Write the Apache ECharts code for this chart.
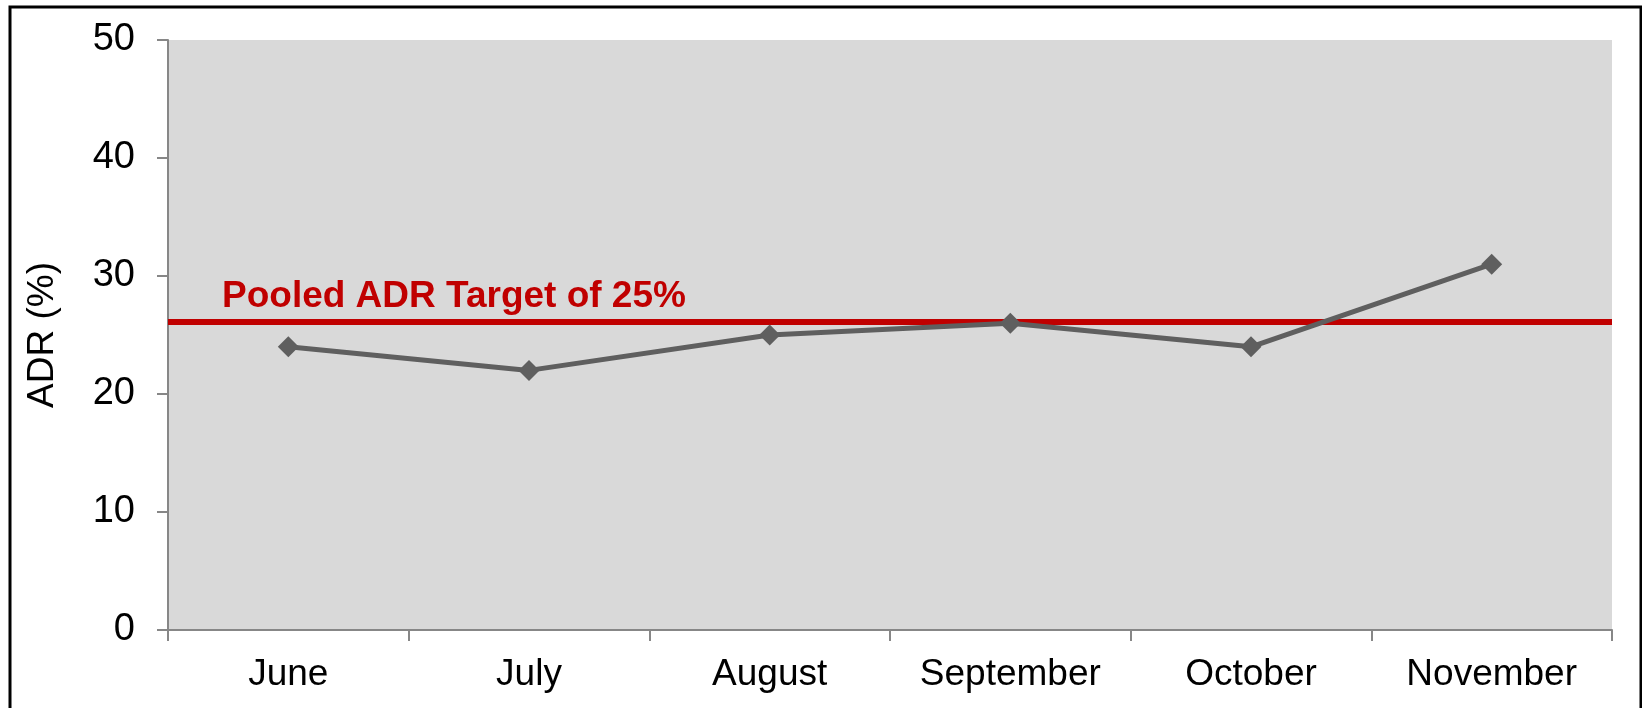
<!DOCTYPE html>
<html>
<head>
<meta charset="utf-8">
<script src="https://cdn.jsdelivr.net/npm/echarts@6/dist/echarts.min.js"></script>
<style>
  html, body { margin: 0; padding: 0; background: #ffffff; }
  #chart { width: 1642px; height: 708px; }
</style>
</head>
<body>
<div id="chart"></div>
<script>
const categories = ['June', 'July', 'August', 'September', 'October', 'November'];
const adrValues = [24, 22, 25, 26, 24, 31];
const targetValue = 26.1;
const targetLabel = 'Pooled ADR Target of 25%';
const yTicks = { min: 0, max: 50, interval: 10 };
const yAxisName = 'ADR (%)';

const FONT = "'Liberation Sans', Arial, sans-serif";
const chart = echarts.init(document.getElementById('chart'), null, { renderer: 'canvas' });

chart.setOption({
  backgroundColor: '#ffffff',
  animation: false,
  textStyle: { fontFamily: FONT },
  graphic: [{
    type: 'rect',
    shape: { x: 10, y: 7, width: 1631, height: 800 },
    style: { fill: 'none', stroke: '#000000', lineWidth: 3 },
    silent: true,
    z: 100
  }],
  grid: {
    left: 168, right: 30, top: 40, bottom: 78,
    show: true, backgroundColor: '#D9D9D9', borderWidth: 0
  },
  xAxis: {
    type: 'category',
    data: categories,
    boundaryGap: true,
    axisLine: { lineStyle: { color: '#878787', width: 2 } },
    axisTick: { show: true, alignWithLabel: false, length: 11, lineStyle: { color: '#878787', width: 2 } },
    axisLabel: { color: '#000000', fontSize: 37, fontFamily: FONT, margin: 26 },
    splitLine: { show: false }
  },
  yAxis: {
    type: 'value',
    min: yTicks.min, max: yTicks.max, interval: yTicks.interval,
    name: yAxisName,
    nameLocation: 'middle',
    nameGap: 107,
    nameRotate: 90,
    nameTextStyle: { color: '#000000', fontSize: 37, fontFamily: FONT },
    axisLine: { show: true, lineStyle: { color: '#878787', width: 2 } },
    axisTick: { show: true, length: 11, lineStyle: { color: '#878787', width: 2 } },
    axisLabel: { color: '#000000', fontSize: 38, fontFamily: FONT, margin: 33 },
    splitLine: { show: false }
  },
  series: [{
    type: 'line',
    data: adrValues,
    symbol: 'diamond',
    symbolSize: 21,
    lineStyle: { color: '#5F5F5F', width: 5 },
    itemStyle: { color: '#5F5F5F' },
    z: 3,
    markLine: {
      silent: true,
      symbol: ['none', 'none'],
      lineStyle: { color: '#C00000', width: 6, type: 'solid' },
      label: {
        show: true,
        position: 'insideStartTop',
        formatter: targetLabel,
        color: '#C00000',
        fontSize: 37,
        fontWeight: 'bold',
        fontFamily: FONT,
        distance: [54, 7]
      },
      data: [{ yAxis: targetValue }],
      z: 2
    }
  }]
});
</script>
</body>
</html>
